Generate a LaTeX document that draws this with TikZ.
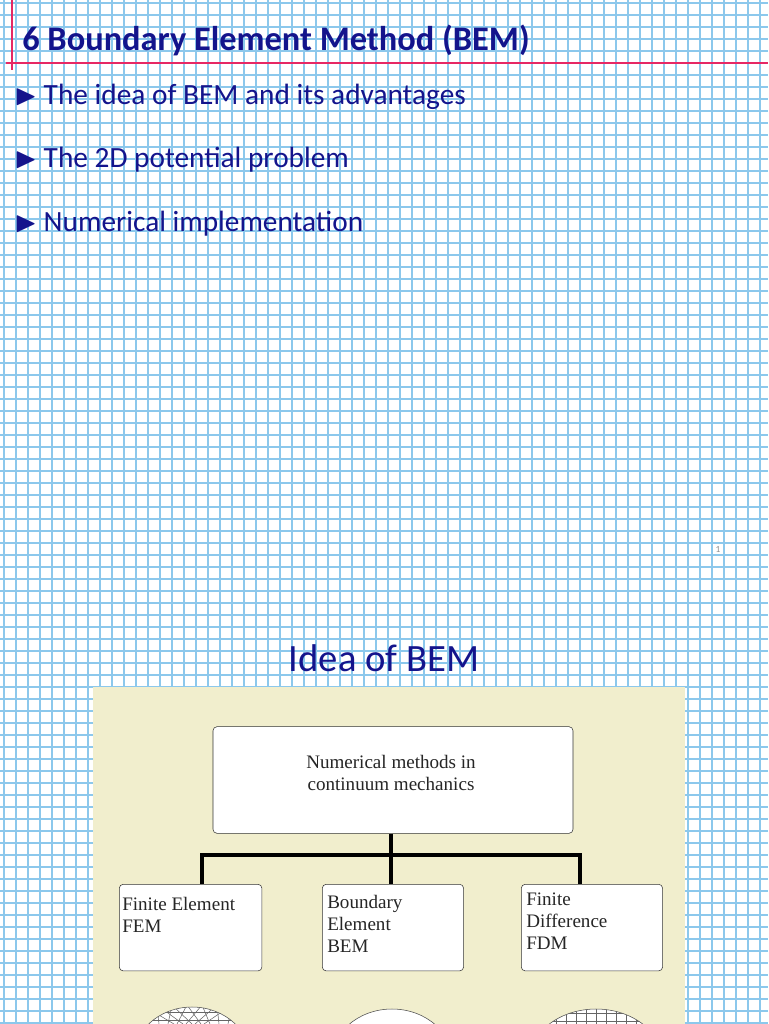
\documentclass[tikz,border=0pt]{standalone}
\usepackage{amssymb}
\usepackage{fontspec}
\setmainfont{Carlito}
\newfontfamily\diagfont{Liberation Serif}
\usetikzlibrary{positioning, calc}
\definecolor{gridblue}{RGB}{140,200,236}
\definecolor{slideblue}{RGB}{20,20,140}
\definecolor{marginred}{RGB}{230,40,100}
\definecolor{paper}{RGB}{241,238,205}

\begin{document}
\begin{tikzpicture}
    [
        x=0.75pt, y=-0.75pt,
        bullet_text/.style={anchor=west, inner sep=0pt, text=slideblue, font=\fontsize{22}{26}\selectfont},
        method_box/.style={draw=black!80, fill=white, rounded corners=3pt, thin, anchor=north west, inner sep=0pt},
        method_text/.style={anchor=north west, align=left, inner sep=0pt, font=\diagfont\fontsize{14.3}{16.5}\selectfont, text=black!85},
        link/.style={draw=black, line width=2.4pt},
    ]
        \useasboundingbox (0,0) rectangle (768,1024);
        \fill[white] (0,0) rectangle (768,1024);
        % grid paper
        \foreach \i in {0,...,64} {
            \draw[gridblue, line width=0.8pt] (4+12*\i,0) -- (4+12*\i,1024);
        }
        \foreach \j in {0,...,85} {
            \draw[gridblue, line width=0.8pt] (0,3+12*\j) -- (768,3+12*\j);
        }
        % margin lines
        \draw[marginred, line width=1.6pt] (12,0) -- (12,70);
        \draw[marginred, line width=1.6pt] (6,63) -- (768,63);
        \node[anchor=west, inner sep=0pt, text=slideblue, font=\fontsize{25.8}{30}\selectfont\bfseries] (title) at (22,40) {6 Boundary Element Method (BEM)};
        \node[bullet_text] (b1) at (14,97) {$\blacktriangleright$\hspace{5pt}The idea of BEM and its advantages};
        \node[bullet_text] (b2) at (14,160) {$\blacktriangleright$\hspace{5pt}The 2D potential problem};
        \node[bullet_text] (b3) at (14,224) {$\blacktriangleright$\hspace{5pt}Numerical implementation};
        \node[text=black!45, font=\fontsize{7}{8}\selectfont, inner sep=0pt] (pagenum) at (718,549) {1};
        % second slide
        \node[text=slideblue, font=\fontsize{29}{34}\selectfont, inner sep=0pt] (idea) at (384,658) {Idea of BEM};
        \fill[paper] (93,687) rectangle (685,1024);
        \node[method_box, minimum width=270pt, minimum height=80pt, anchor=center] (top) at (393,780) {};
        \node[method_text, align=center, anchor=center] (toptxt) at (391,773) {Numerical methods in\\continuum mechanics};
        \node[method_box, minimum width=107pt, minimum height=65pt] (fem) at (119,884) {};
        \node[method_box, minimum width=106pt, minimum height=65pt] (bem) at (322,884) {};
        \node[method_box, minimum width=106pt, minimum height=65pt] (fdm) at (521,884) {};
        \node[method_text] (femtxt) at (122,897) {Finite Element\\FEM};
        \node[method_text] (bemtxt) at (327,895) {Boundary\\Element\\BEM};
        \node[method_text] (fdmtxt) at (526,893) {Finite\\Difference\\FDM};
        \coordinate (hub) at (391,855);
        \draw[link] (top.south -| hub) -- (hub);
        \draw[link] (fem.north -| 202,0) |- (hub) -| (fdm.north -| 580,0);
        \draw[link] (hub) -- (bem.north -| hub);
        % meshes cut off at the bottom
        \begin{scope}
            \clip (93,1000) rectangle (685,1024);
            \draw[black!70, fill=white] (192,1062) ellipse (60 and 55);
            \draw[black!70, fill=white] (392,1064) ellipse (62 and 55);
            \draw[black!70, fill=white] (596,1064) ellipse (68 and 55);
            \begin{scope}
                \clip (192,1062) ellipse (60 and 55);
                \foreach \k in {-50,-35,...,50} {
                    \draw[black!60] (192+\k,1005) -- (192+\k*0.6+12,1024);
                    \draw[black!60] (192+\k,1005) -- (192+\k*0.6-12,1024);
                }
                \foreach \r in {1012,1020} {
                    \draw[black!60] (130,\r) -- (254,\r);
                }
            \end{scope}
            \begin{scope}
                \clip (596,1064) ellipse (68 and 55);
                \foreach \k in {-60,-50,...,60} {
                    \draw[black!60] (596+\k,1000) -- (596+\k,1024);
                }
                \foreach \r in {1013,1021} {
                    \draw[black!60] (520,\r) -- (670,\r);
                }
            \end{scope}
            \foreach \a in {-60,-40,...,60} {
                \draw[black!70] ($(392,1064)+(90+\a:62 and 55)$) -- ++(0,5);
            }
        \end{scope}
    \end{tikzpicture}
\end{document}
